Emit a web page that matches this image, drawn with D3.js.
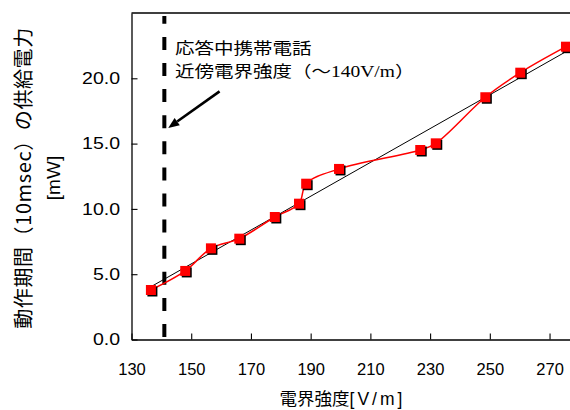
<!DOCTYPE html>
<html>
<head>
<meta charset="utf-8">
<script src="https://cdn.jsdelivr.net/npm/d3@7"></script>
<style>
  html, body { margin: 0; padding: 0; background: #fff; }
  svg { display: block; }
</style>
</head>
<body>
<svg id="chart" width="570" height="410"></svg>
<script>
// ---- data ----
const fieldStrength = [136.5, 148.0, 156.6, 166.1, 178.0, 186.1, 188.5, 199.5, 226.7, 231.9, 248.5, 260.2, 275.5];
const suppliedPower = [3.79, 5.25, 6.98, 7.72, 9.38, 10.40, 11.93, 13.06, 14.51, 15.02, 18.55, 20.43, 22.42];
const trendX = [136.5, 275.5];
const trendY = [4.04, 22.04];
const phoneLimit = 141;
const xTicks = [130, 150, 170, 190, 210, 230, 250, 270];
const yTicks = [0, 5, 10, 15, 20];
const xDomain = [130, 280];
const yDomain = [0, 25];
const arrowFrom = [159.5, 19.0];
const arrowTo = [142.3, 16.2];
const noteLine1 = "応答中携帯電話";
const noteLine2 = ["近傍電界強度（～", "140V/m", "）"];
const xTitle = ["電界強度", "[V/m]"];
const yTitle1 = "動作期間（10msec）の供給電力";
const yTitle2 = "[mW]";

const CJK = "'Noto Sans CJK JP', 'Liberation Sans', sans-serif";
const SANS = "'Liberation Sans', Arial, sans-serif";
const SERIF = "'Liberation Serif', 'Times New Roman', serif";

const svg = d3.select("#chart");
const x = d3.scaleLinear().domain(xDomain).range([131.5, 579.4]);
const y = d3.scaleLinear().domain(yDomain).range([339.5, 13]);

// frame (top and right borders)
svg.append("path")
  .attr("d", `M${x(xDomain[0])},${y(yDomain[1])}H${x(xDomain[1])}V${y(yDomain[0])}`)
  .attr("fill", "none").attr("stroke", "#000").attr("stroke-width", 1.3);

// x axis
const gx = svg.append("g").attr("transform", `translate(0,${y(0)})`)
  .call(d3.axisBottom(x).tickValues(xTicks).tickSizeInner(-6).tickSizeOuter(0).tickPadding(24).tickFormat(d => d));
gx.select(".domain").attr("stroke-width", 1.3);
gx.selectAll(".tick line").attr("stroke-width", 1.1);
gx.selectAll(".tick text").attr("font-family", SANS).attr("font-size", 16.5).attr("fill", "#000");

// y axis
const gy = svg.append("g").attr("transform", `translate(${x(xDomain[0])},0)`)
  .call(d3.axisLeft(y).tickValues(yTicks).tickSizeInner(-6).tickSizeOuter(0).tickPadding(0).tickFormat(d3.format(".1f")));
gy.select(".domain").attr("stroke-width", 1.3);
gy.selectAll(".tick line").attr("stroke-width", 1.1);
gy.selectAll(".tick text").attr("font-family", SANS).attr("font-size", 16).attr("fill", "#000")
  .attr("x", 0).attr("transform", "translate(-11.5,0) scale(1.22,1)");

// dashed limit line
svg.append("line")
  .attr("x1", x(phoneLimit)).attr("x2", x(phoneLimit))
  .attr("y1", y(0) - 2.5).attr("y2", y(yDomain[1]) + 3)
  .attr("stroke", "#000").attr("stroke-width", 4).attr("stroke-dasharray", "13,13.1");

// trend line
svg.append("line")
  .attr("x1", x(trendX[0])).attr("y1", y(trendY[0]))
  .attr("x2", x(trendX[1])).attr("y2", y(trendY[1]))
  .attr("stroke", "#000").attr("stroke-width", 1);

// data line
const pts = fieldStrength.map((v, i) => [v, suppliedPower[i]]);
svg.append("path")
  .datum(pts)
  .attr("d", d3.line().x(d => x(d[0])).y(d => y(d[1])).curve(d3.curveCatmullRom.alpha(0.5)))
  .attr("fill", "none").attr("stroke", "#ff0000").attr("stroke-width", 1.5);

// markers
const ms = 10;
const mg = svg.append("g");
mg.selectAll("rect.sh").data(pts).join("rect").attr("class", "sh")
  .attr("x", d => x(d[0]) - ms / 2 + 1.5).attr("y", d => y(d[1]) - ms / 2 + 1.5)
  .attr("width", ms).attr("height", ms).attr("fill", "#000");
mg.selectAll("rect.mk").data(pts).join("rect").attr("class", "mk")
  .attr("x", d => x(d[0]) - ms / 2).attr("y", d => y(d[1]) - ms / 2)
  .attr("width", ms).attr("height", ms).attr("fill", "#ff0000");

// arrow
const ax1 = x(arrowFrom[0]), ay1 = y(arrowFrom[1]);
const ax2 = x(arrowTo[0]), ay2 = y(arrowTo[1]);
const ang = Math.atan2(ay2 - ay1, ax2 - ax1);
const hl = 11, hw = 4.5;
const bx = ax2 - hl * Math.cos(ang), by = ay2 - hl * Math.sin(ang);
svg.append("line").attr("x1", ax1).attr("y1", ay1).attr("x2", bx).attr("y2", by)
  .attr("stroke", "#000").attr("stroke-width", 2.6);
svg.append("path")
  .attr("d", `M${ax2},${ay2}L${bx + hw * Math.sin(ang)},${by - hw * Math.cos(ang)}L${bx - hw * Math.sin(ang)},${by + hw * Math.cos(ang)}Z`)
  .attr("fill", "#000");

// annotation text
const noteX = 175;
svg.append("text").attr("font-family", CJK).attr("font-size", 16).attr("fill", "#000")
  .attr("transform", `translate(${noteX},54) scale(1.22,1)`).text(noteLine1);
const t2 = svg.append("text").attr("font-size", 16).attr("fill", "#000")
  .attr("transform", `translate(${noteX},77) scale(1.22,1)`);
t2.append("tspan").attr("font-family", CJK).text(noteLine2[0]);
t2.append("tspan").attr("font-family", SERIF).text(noteLine2[1]);
t2.append("tspan").attr("font-family", CJK).text(noteLine2[2]);

// x title
const xt = svg.append("text").attr("x", 342.5).attr("y", 405).attr("text-anchor", "middle")
  .attr("font-size", 17.5).attr("fill", "#000");
xt.append("tspan").attr("font-family", CJK).text(xTitle[0]);
xt.append("tspan").attr("font-family", SANS).attr("letter-spacing", 3).text(xTitle[1]);

// y title
const yc = 178;
svg.append("text").attr("transform", `translate(31,${yc}) rotate(-90)`)
  .attr("text-anchor", "middle").attr("font-family", CJK).attr("font-size", 20)
  .attr("letter-spacing", 0.6).attr("fill", "#000").text(yTitle1);
svg.append("text").attr("transform", `translate(60,${yc}) rotate(-90)`)
  .attr("text-anchor", "middle").attr("font-family", SANS).attr("font-size", 19)
  .attr("fill", "#000").text(yTitle2);
</script>
</body>
</html>
